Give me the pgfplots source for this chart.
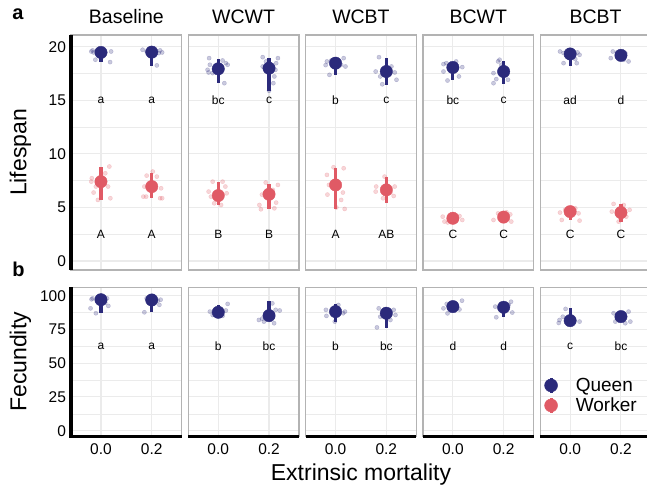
\documentclass[border=0pt]{standalone}
\usepackage{fontspec}
\setmainfont{Liberation Sans}
\usepackage{pgfplots}
\usepackage{pgfplotstable}
\pgfplotsset{compat=1.18}
\definecolor{queen}{RGB}{43,42,123}
\definecolor{worker}{RGB}{224,90,101}
\definecolor{gridc}{RGB}{235,235,235}
\definecolor{borderc}{RGB}{179,179,179}
\newcommand\ticksize{\fontsize{15.5}{18}\selectfont}
\newcommand\stripsize{\fontsize{19.5}{23}\selectfont}
\newcommand\titlesize{\fontsize{23}{27}\selectfont}
\newcommand\legsize{\fontsize{19}{22}\selectfont}
\newcommand\letsize{\fontsize{12}{14}\selectfont}
\newcommand\tagsize{\fontsize{20}{24}\selectfont\bfseries}

% ---------- Lifespan summaries (mean, low, high) ----------
\pgfplotstableread{
x m lo hi
0 19.47 18.55 19.75
0.2 19.50 18.25 19.80
}\LsBaseQ
\pgfplotstableread{
x m lo hi
0 7.41 5.70 8.75
0.2 6.95 5.86 8.25
}\LsBaseW
\pgfplotstableread{
x m lo hi
0 17.94 16.60 18.85
0.2 18.00 15.90 18.94
}\LsWCWTQ
\pgfplotstableread{
x m lo hi
0 6.11 5.23 7.35
0.2 6.23 4.83 7.20
}\LsWCWTW
\pgfplotstableread{
x m lo hi
0 18.47 17.32 18.70
0.2 17.69 16.45 18.94
}\LsWCBTQ
\pgfplotstableread{
x m lo hi
0 7.10 4.86 8.72
0.2 6.64 5.45 7.88
}\LsWCBTW
\pgfplotstableread{
x m lo hi
0 18.07 16.92 18.30
0.2 17.69 16.54 18.63
}\LsBCWTQ
\pgfplotstableread{
x m lo hi
0 3.99 3.80 4.20
0.2 4.10 3.90 4.30
}\LsBCWTW
\pgfplotstableread{
x m lo hi
0 19.33 18.16 19.50
0.2 19.20 19.00 19.40
}\LsBCBTQ
\pgfplotstableread{
x m lo hi
0 4.61 3.83 4.80
0.2 4.52 3.68 5.33
}\LsBCBTW

% ---------- Lifespan individual points ----------
\pgfplotstableread{
x y
-0.038 19.56
-0.029 19.47
-0.016 19.66
0.017 19.47
0.040 19.56
-0.022 18.79
0.036 18.57
-0.033 19.66
0.164 19.72
0.233 19.66
0.241 19.47
0.220 18.26
0.180 19.56
0.228 19.41
}\LsBaseQj
\pgfplotstableread{
x y
0.033 8.82
-0.036 7.73
-0.038 7.41
-0.029 6.39
-0.012 5.70
0.037 5.86
0.017 8.19
0.028 6.95
-0.020 6.95
0.180 7.97
0.220 7.88
0.171 6.95
0.237 6.79
0.167 6.01
0.178 6.01
0.233 5.86
0.241 5.86
0.204 8.35
}\LsBaseWj
\pgfplotstableread{
x y
-0.036 18.94
-0.042 17.85
-0.033 18.32
0.030 18.47
0.037 18.32
0.024 16.60
-0.022 17.54
0.017 18.72
-0.038 17.60
0.175 19.03
0.235 18.94
0.228 18.47
0.225 17.85
0.221 17.23
0.217 16.60
0.175 18.16
0.188 18.63
0.200 15.90
}\LsWCWTQj
\pgfplotstableread{
x y
-0.022 7.41
-0.038 6.48
0.028 6.95
0.033 6.32
0.017 7.41
-0.016 5.39
0.011 5.23
-0.029 6.01
0.162 5.23
0.168 4.83
0.221 4.92
0.228 5.45
0.235 7.10
0.187 7.32
0.215 6.64
0.172 6.20
}\LsWCWTWj
\pgfplotstableread{
x y
-0.034 18.63
-0.039 18.29
0.032 18.94
0.039 18.16
-0.024 17.38
0.022 18.32
-0.017 18.72
0.171 19.03
0.158 17.69
0.233 17.60
0.240 16.92
0.184 16.50
0.220 18.16
0.176 17.23
}\LsWCBTQj
\pgfplotstableread{
x y
-0.008 8.75
0.032 8.66
-0.034 8.04
-0.026 7.10
0.029 6.39
-0.032 6.20
0.022 5.70
0.036 4.86
0.003 5.00
0.193 7.88
0.160 6.95
0.158 6.48
0.233 6.95
0.229 6.07
0.187 5.86
0.216 6.39
}\LsWCBTWj
\pgfplotstableread{
x y
-0.037 18.38
-0.026 18.47
0.013 18.63
0.037 18.10
-0.037 17.69
-0.021 16.85
0.024 17.23
0.178 18.63
0.184 18.79
0.160 17.54
0.160 16.60
0.171 16.98
0.217 16.92
0.191 18.32
}\LsBCWTQj
\pgfplotstableread{
x y
-0.040 4.14
0.037 3.83
0.026 4.20
-0.033 3.68
-0.020 3.60
0.160 3.83
0.226 4.35
0.230 3.68
0.178 4.45
0.211 4.55
}\LsBCWTWj
\pgfplotstableread{
x y
-0.040 19.56
-0.026 19.41
0.029 19.47
0.037 19.25
0.026 18.47
-0.026 18.47
0.020 18.85
0.168 19.56
0.160 18.94
0.230 18.63
0.217 19.41
0.184 19.47
0.211 18.79
}\LsBCBTQj
\pgfplotstableread{
x y
-0.040 4.52
-0.033 3.83
0.033 4.45
0.037 3.77
0.020 4.92
-0.020 4.77
0.171 5.33
0.234 4.77
0.221 4.14
0.164 4.61
0.211 5.23
0.191 3.68
}\LsBCBTWj

% ---------- Fecundity ----------
\pgfplotstableread{
x m lo hi
0 97.0 87.5 98.5
0.2 96.8 87.7 98.5
}\FcBase
\pgfplotstableread{
x m lo hi
0 87.7 85.5 93.1
0.2 85.2 82.0 96.1
}\FcWCWT
\pgfplotstableread{
x m lo hi
0 88.2 80.8 93.9
0.2 87.0 76.3 88.5
}\FcWCBT
\pgfplotstableread{
x m lo hi
0 91.9 90.0 93.5
0.2 91.4 84.0 93.0
}\FcBCWT
\pgfplotstableread{
x m lo hi
0 81.5 80.0 90.6
0.2 84.5 82.5 86.5
}\FcBCBT
\pgfplotstableread{
x y
-0.037 97.3
-0.041 90.6
-0.020 87.0
0.029 92.4
0.017 94.8
0.024 98.0
-0.033 98.0
0.171 87.7
0.224 96.3
0.230 93.2
0.180 98.0
0.235 97.0
}\FcBasej
\pgfplotstableread{
x y
-0.033 88.2
0.037 93.9
0.030 89.0
-0.022 85.7
0.017 85.0
-0.009 89.7
0.160 82.0
0.180 80.8
0.242 89.0
0.226 89.5
0.213 94.3
0.220 79.6
0.173 83.0
}\FcWCWTj
\pgfplotstableread{
x y
-0.038 89.5
-0.036 85.0
0.030 87.0
0.037 88.2
-0.003 80.8
0.011 93.1
0.163 76.5
0.170 90.6
0.236 85.7
0.229 89.5
0.216 82.0
0.176 84.4
}\FcWCBTj
\pgfplotstableread{
x y
-0.037 90.6
-0.021 86.9
0.036 96.3
0.026 89.8
-0.024 93.9
0.171 84.0
0.229 95.5
0.234 87.5
0.220 93.2
0.167 91.9
}\FcBCWTj
\pgfplotstableread{
x y
-0.045 79.8
-0.018 90.2
0.037 80.8
-0.042 82.0
-0.029 84.4
0.171 87.0
0.230 88.2
0.237 80.8
0.178 80.8
0.217 79.6
}\FcBCBTj

\pgfplotsset{
  panel/.style={scale only axis, width=110.7pt, xmin=-0.118, xmax=0.318,
    xtick={0,0.2}, xticklabels={0.0,0.2}, grid=both, minor y tick num=1,
    major grid style={draw=gridc, line width=1.1pt},
    minor grid style={draw=gridc, line width=0.6pt},
    major tick length=0pt, minor tick length=0pt,
    axis line style={draw=borderc, line width=1.2pt},
    tick label style={font=\ticksize, text=black},
    /pgf/number format/assume math mode=true,
    clip=false, anchor=south west,
    title style={font=\stripsize, at={(axis description cs:0.5,1)}, anchor=base, yshift=5.7pt},
    yticklabel style={xshift=-1.5pt}, xticklabel style={yshift=-3.5pt}},
  toprow/.style={height=235pt, ymin=-0.84, ymax=21.1, ytick={0,5,10,15,20}, xticklabels={}},
  botrow/.style={height=149.2pt, ymin=-4.3, ymax=106.2, ytick={0,25,50,75,100}},
  inner/.style={yticklabels={}},
  ylab/.style={ylabel style={font=\titlesize, at={(axis description cs:-0.456,0.5)}, anchor=center, rotate=0}},
  jitQ/.style={forget plot, only marks, color=queen, mark=*, mark size=2.1pt, mark options={draw=none, fill=queen, opacity=0.25}},
  jitW/.style={forget plot, only marks, color=worker, mark=*, mark size=2.1pt, mark options={draw=none, fill=worker, opacity=0.25}},
  prQ/.style={forget plot, only marks, color=queen, mark=*, mark size=6.2pt, mark options={draw=none, fill=queen},
    error bars/.cd, y dir=both, y explicit, error mark=none, error bar style={draw=queen, line width=3.2pt}},
  prW/.style={forget plot, only marks, color=worker, mark=*, mark size=6.2pt, mark options={draw=none, fill=worker},
    error bars/.cd, y dir=both, y explicit, error mark=none, error bar style={draw=worker, line width=3.2pt}},
  table/pr/.style={x=x, y=m, y error plus expr=\thisrow{hi}-\thisrow{m}, y error minus expr=\thisrow{m}-\thisrow{lo}},
}

\begin{document}
\begin{tikzpicture}[x=1pt,y=1pt]
\useasboundingbox (0,0) rectangle (647,484);

% ================= Lifespan row =================
\begin{axis}[panel, toprow, at={(71pt,214pt)}, title={Baseline}, ylabel={Lifespan}, ylab]
\addplot[jitQ] table[x=x,y=y] {\LsBaseQj};
\addplot[jitW] table[x=x,y=y] {\LsBaseWj};
\addplot[prQ] table[pr] {\LsBaseQ};
\addplot[prW] table[pr] {\LsBaseW};
\node[font=\letsize] at (axis cs:0,15) {a};
\node[font=\letsize] at (axis cs:0.2,15) {a};
\node[font=\letsize] at (axis cs:0,2.5) {A};
\node[font=\letsize] at (axis cs:0.2,2.5) {A};
\draw[black, line width=3.5pt] (rel axis cs:0,0) -- (rel axis cs:0,1);
\end{axis}

\begin{axis}[panel, toprow, inner, at={(188.3pt,214pt)}, title={WCWT}]
\addplot[jitQ] table[x=x,y=y] {\LsWCWTQj};
\addplot[jitW] table[x=x,y=y] {\LsWCWTWj};
\addplot[prQ] table[pr] {\LsWCWTQ};
\addplot[prW] table[pr] {\LsWCWTW};
\node[font=\letsize] at (axis cs:0,15) {bc};
\node[font=\letsize] at (axis cs:0.2,15) {c};
\node[font=\letsize] at (axis cs:0,2.5) {B};
\node[font=\letsize] at (axis cs:0.2,2.5) {B};
\end{axis}

\begin{axis}[panel, toprow, inner, at={(305.6pt,214pt)}, title={WCBT}]
\addplot[jitQ] table[x=x,y=y] {\LsWCBTQj};
\addplot[jitW] table[x=x,y=y] {\LsWCBTWj};
\addplot[prQ] table[pr] {\LsWCBTQ};
\addplot[prW] table[pr] {\LsWCBTW};
\node[font=\letsize] at (axis cs:0,15) {b};
\node[font=\letsize] at (axis cs:0.2,15) {c};
\node[font=\letsize] at (axis cs:0,2.5) {A};
\node[font=\letsize] at (axis cs:0.2,2.5) {AB};
\end{axis}

\begin{axis}[panel, toprow, inner, at={(422.9pt,214pt)}, title={BCWT}]
\addplot[jitQ] table[x=x,y=y] {\LsBCWTQj};
\addplot[jitW] table[x=x,y=y] {\LsBCWTWj};
\addplot[prQ] table[pr] {\LsBCWTQ};
\addplot[prW] table[pr] {\LsBCWTW};
\node[font=\letsize] at (axis cs:0,15) {bc};
\node[font=\letsize] at (axis cs:0.2,15) {c};
\node[font=\letsize] at (axis cs:0,2.5) {C};
\node[font=\letsize] at (axis cs:0.2,2.5) {C};
\end{axis}

\begin{axis}[panel, toprow, inner, at={(540.2pt,214pt)}, title={BCBT}]
\addplot[jitQ] table[x=x,y=y] {\LsBCBTQj};
\addplot[jitW] table[x=x,y=y] {\LsBCBTWj};
\addplot[prQ] table[pr] {\LsBCBTQ};
\addplot[prW] table[pr] {\LsBCBTW};
\node[font=\letsize] at (axis cs:0,15) {ad};
\node[font=\letsize] at (axis cs:0.2,15) {d};
\node[font=\letsize] at (axis cs:0,2.5) {C};
\node[font=\letsize] at (axis cs:0.2,2.5) {C};
\end{axis}

% ================= Fecundity row =================
\begin{axis}[panel, botrow, at={(71pt,47.5pt)}, ylabel={Fecundity}, ylab]
\addplot[jitQ] table[x=x,y=y] {\FcBasej};
\addplot[prQ] table[pr] {\FcBase};
\node[font=\letsize] at (axis cs:0,62.5) {a};
\node[font=\letsize] at (axis cs:0.2,62.5) {a};
\draw[black, line width=3.5pt] (rel axis cs:0,1) -- (rel axis cs:0,0) -- (rel axis cs:1,0);
\end{axis}

\begin{axis}[panel, botrow, inner, at={(188.3pt,47.5pt)}]
\addplot[jitQ] table[x=x,y=y] {\FcWCWTj};
\addplot[prQ] table[pr] {\FcWCWT};
\node[font=\letsize] at (axis cs:0,62.5) {b};
\node[font=\letsize] at (axis cs:0.2,62.5) {bc};
\draw[black, line width=3.5pt] (rel axis cs:0,0) -- (rel axis cs:1,0);
\end{axis}

\begin{axis}[panel, botrow, inner, at={(305.6pt,47.5pt)},
  xlabel={Extrinsic mortality}, xlabel style={font=\titlesize, at={(axis description cs:0.5,0)}, anchor=base, yshift=-43.5pt}]
\addplot[jitQ] table[x=x,y=y] {\FcWCBTj};
\addplot[prQ] table[pr] {\FcWCBT};
\node[font=\letsize] at (axis cs:0,62.5) {b};
\node[font=\letsize] at (axis cs:0.2,62.5) {bc};
\draw[black, line width=3.5pt] (rel axis cs:0,0) -- (rel axis cs:1,0);
\end{axis}

\begin{axis}[panel, botrow, inner, at={(422.9pt,47.5pt)}]
\addplot[jitQ] table[x=x,y=y] {\FcBCWTj};
\addplot[prQ] table[pr] {\FcBCWT};
\node[font=\letsize] at (axis cs:0,62.5) {d};
\node[font=\letsize] at (axis cs:0.2,62.5) {d};
\draw[black, line width=3.5pt] (rel axis cs:0,0) -- (rel axis cs:1,0);
\end{axis}

\begin{axis}[panel, botrow, inner, at={(540.2pt,47.5pt)},
  legend style={draw=none, fill=none, at={(axis description cs:0.036,0.275)}, anchor=west,
    font=\legsize, inner sep=0pt, row sep=2pt, column sep=17pt, nodes={inner sep=1pt}},
  legend cell align=left]
\addplot[jitQ] table[x=x,y=y] {\FcBCBTj};
\addplot[prQ] table[pr] {\FcBCBT};
\node[font=\letsize] at (axis cs:0,62.5) {c};
\node[font=\letsize] at (axis cs:0.2,62.5) {bc};
\draw[black, line width=3.5pt] (rel axis cs:0,0) -- (rel axis cs:1,0);
\addlegendimage{legend image code/.code={\draw[queen, line width=3pt] (0pt,-7.5pt) -- (0pt,7.5pt); \fill[queen] (0pt,0pt) circle (6.5pt);}}
\addlegendentry{Queen}
\addlegendimage{legend image code/.code={\draw[worker, line width=3pt] (0pt,-7.5pt) -- (0pt,7.5pt); \fill[worker] (0pt,0pt) circle (6.5pt);}}
\addlegendentry{Worker}
\end{axis}

\node[font=\tagsize, anchor=base west, inner sep=0pt] at (12.3,464) {a};
\node[font=\tagsize, anchor=base west, inner sep=0pt] at (12.3,207.3) {b};
\end{tikzpicture}
\end{document}
